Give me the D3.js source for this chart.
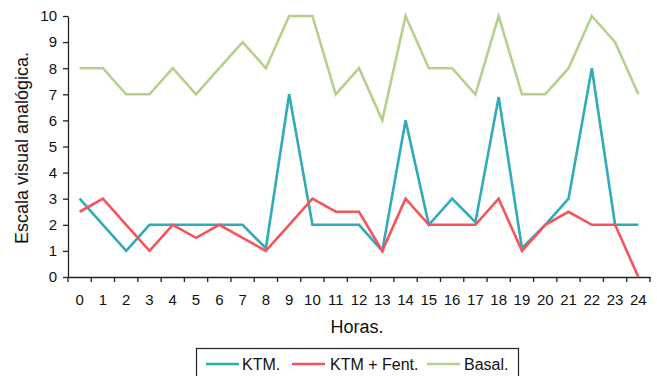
<!DOCTYPE html>
<html><head><meta charset="utf-8">
<script src="https://cdn.jsdelivr.net/npm/d3@7"></script>
<style>body{margin:0;background:#fff}svg{display:block;font-family:"Liberation Sans",Arial,sans-serif}</style>
</head><body><svg id="c" width="657" height="376"></svg>
<script>
const hours = d3.range(0, 25).map(String);
const ktm   = [3,2,1,2,2,2,2,2,1.1,7,2,2,2,1,6,2,3,2.1,6.9,1.1,2,3,8,2,2];
const fent  = [2.5,3,2,1,2,1.5,2,1.5,1,2,3,2.5,2.5,1,3,2,2,2,3,1,2,2.5,2,2,0];
const basal = [8,8,7,7,8,7,8,9,8,10,10,7,8,6,10,8,8,7,10,7,7,8,10,9,7];
const yTicks = d3.range(0, 11);
const seriesNames = ["KTM.", "KTM + Fent.", "Basal."];
const colors = ["#2fabb9", "#f6545b", "#b6d08c"];

const svg = d3.select("#c");
const x = d3.scaleBand().domain(hours).range([68, 650]);
const y = d3.scaleLinear().domain([0, 10]).range([277, 16]);

const yAxis = svg.append("g").attr("transform", "translate(68,0)")
  .call(d3.axisLeft(y).tickValues(yTicks).tickSize(5).tickSizeOuter(0).tickPadding(6));
const xAxis = svg.append("g").attr("transform", "translate(0,277)")
  .call(d3.axisBottom(x).tickSize(0).tickPadding(17));
xAxis.selectAll(".sep").data(d3.range(0, 26)).enter().append("line")
  .attr("x1", i => x.range()[0] + i * x.step()).attr("x2", i => x.range()[0] + i * x.step())
  .attr("y1", 0).attr("y2", 5).attr("stroke", "#222").attr("stroke-width", 1.3);
[yAxis, xAxis].forEach(g => {
  g.selectAll("path").attr("stroke", "#222").attr("stroke-width", 1.3);
  g.selectAll("line").attr("stroke", "#222").attr("stroke-width", 1.3);
  g.selectAll("text").attr("font-size", 15).attr("fill", "#111").attr("font-family", "Liberation Sans, Arial, sans-serif");
});

const line = d3.line().x((d, i) => x(hours[i]) + x.bandwidth() / 2).y(d => y(d));
[basal, ktm, fent].forEach((s, k) => {
  const c = [colors[2], colors[0], colors[1]][k];
  svg.append("path").datum(s).attr("d", line).attr("fill", "none")
    .attr("stroke", c).attr("stroke-width", 2.6).attr("stroke-linejoin", "miter");
});

svg.append("text").attr("transform", "translate(28,148) rotate(-90)")
  .attr("text-anchor", "middle").attr("font-size", 18).attr("fill", "#111").text("Escala visual analógica.");
svg.append("text").attr("x", 357).attr("y", 333).attr("text-anchor", "middle")
  .attr("font-size", 18).attr("fill", "#111").text("Horas.");

const lg = svg.append("g");
lg.append("rect").attr("x", 196.5).attr("y", 348.5).attr("width", 322).attr("height", 40)
  .attr("fill", "none").attr("stroke", "#222").attr("stroke-width", 1.2);
const items = [{x: 206, tx: 242}, {x: 292, tx: 330}, {x: 427, tx: 464}];
items.forEach((it, i) => {
  lg.append("line").attr("x1", it.x).attr("x2", it.x + 33).attr("y1", 364).attr("y2", 364)
    .attr("stroke", colors[i]).attr("stroke-width", 2.6);
  lg.append("text").attr("x", it.tx).attr("y", 369.5).attr("font-size", 16).attr("fill", "#111").text(seriesNames[i]);
});
</script></body></html>
